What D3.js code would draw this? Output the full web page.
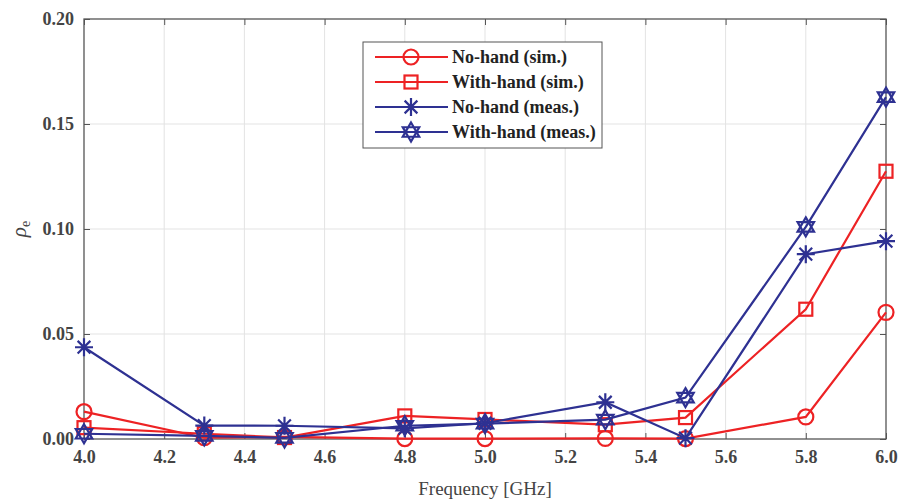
<!DOCTYPE html>
<html><head><meta charset="utf-8">
<script src="https://cdn.jsdelivr.net/npm/d3@7"></script>
<style>body{margin:0;background:#fff}svg{display:block}</style>
</head><body>
<script>
const freqs = [4.0, 4.3, 4.5, 4.8, 5.0, 5.3, 5.5, 5.8, 6.0];
const noHandSim = [0.013, 0.0006, 0.001, 0.0002, 0.0002, 0.0003, 0.0002, 0.0105, 0.0603];
const withHandSim = [0.0054, 0.0025, 0.0007, 0.011, 0.0093, 0.0068, 0.0102, 0.0618, 0.1275];
const noHandMeas = [0.0437, 0.0064, 0.0063, 0.0051, 0.0075, 0.0175, 0.0004, 0.088, 0.0942];
const withHandMeas = [0.0025, 0.0015, 0.0005, 0.0063, 0.0073, 0.0092, 0.0197, 0.101, 0.1628];
const seriesNames = ["No-hand (sim.)", "With-hand (sim.)", "No-hand (meas.)", "With-hand (meas.)"];
const xTicks = [4.0, 4.2, 4.4, 4.6, 4.8, 5.0, 5.2, 5.4, 5.6, 5.8, 6.0];
const yTicks = [0, 0.05, 0.10, 0.15, 0.20];

const W = 899, H = 499;
const m = {l: 84, r: 13, t: 19, b: 60};
const red = "#ED2224", blue = "#2E3192";
const svg = d3.select("body").append("svg").attr("width", W).attr("height", H);
const x = d3.scaleLinear().domain([4, 6]).range([m.l, W - m.r]);
const y = d3.scaleLinear().domain([0, 0.2]).range([H - m.b, m.t]);
const pw = W - m.r - m.l, ph = H - m.b - m.t;

// grid
svg.append("g").selectAll("line.gx").data(xTicks.slice(1, -1)).join("line")
  .attr("x1", d => x(d)).attr("x2", d => x(d)).attr("y1", m.t).attr("y2", H - m.b)
  .attr("stroke", "#e3e3e3").attr("stroke-width", 1);
svg.append("g").selectAll("line.gy").data(yTicks.slice(1, -1)).join("line")
  .attr("y1", d => y(d)).attr("y2", d => y(d)).attr("x1", m.l).attr("x2", W - m.r)
  .attr("stroke", "#e3e3e3").attr("stroke-width", 1);

const fontT = "'Liberation Serif','Times New Roman',serif";
const axisStyle = g => {
  g.attr("font-family", fontT);
  g.select(".domain").remove();
  g.selectAll(".tick line").attr("stroke", "#555");
  g.selectAll(".tick text").style("font-family", fontT).attr("font-size", 18)
    .attr("font-weight", "bold").attr("fill", "#444");
};
svg.append("g").attr("transform", `translate(0,${H - m.b})`)
  .call(d3.axisBottom(x).tickValues(xTicks).tickFormat(d3.format(".1f")).tickSizeInner(-6).tickSizeOuter(0).tickPadding(11))
  .call(axisStyle);
svg.append("g").attr("transform", `translate(0,${m.t})`)
  .call(d3.axisTop(x).tickValues(xTicks).tickFormat("").tickSizeInner(-6).tickSizeOuter(0))
  .call(axisStyle);
svg.append("g").attr("transform", `translate(${m.l},0)`)
  .call(d3.axisLeft(y).tickValues(yTicks).tickFormat(d3.format(".2f")).tickSizeInner(-6).tickSizeOuter(0).tickPadding(10))
  .call(axisStyle);
svg.append("g").attr("transform", `translate(${W - m.r},0)`)
  .call(d3.axisRight(y).tickValues(yTicks).tickFormat("").tickSizeInner(-6).tickSizeOuter(0))
  .call(axisStyle);
svg.append("rect").attr("x", m.l).attr("y", m.t).attr("width", pw).attr("height", ph)
  .attr("fill", "none").attr("stroke", "#555").attr("stroke-width", 1.3);

// labels
svg.append("text").attr("x", x(5)).attr("y", 495).attr("text-anchor", "middle")
  .style("font-family", fontT).attr("font-size", 19).attr("fill", "#444").text("Frequency [GHz]");
const yl = svg.append("text").attr("transform", `translate(26,${y(0.1)}) rotate(-90)`)
  .attr("text-anchor", "middle").style("font-family", fontT).attr("font-size", 21).attr("fill", "#444");
yl.append("tspan").attr("font-style", "italic").text("ρ");
yl.append("tspan").attr("font-size", 14).attr("dy", 4).text("e");

// markers
const hexPath = r => {
  const t1 = d3.range(3).map(i => { const a = -Math.PI/2 + i*2*Math.PI/3; return [r*Math.cos(a), r*Math.sin(a)]; });
  const t2 = d3.range(3).map(i => { const a = Math.PI/2 + i*2*Math.PI/3; return [r*Math.cos(a), r*Math.sin(a)]; });
  return "M" + t1.join("L") + "Z M" + t2.join("L") + "Z";
};
const starPath = r => {
  let p = "";
  [0, 45, 90, 135].forEach(dg => { const a = dg*Math.PI/180; p += `M${-r*Math.cos(a)},${-r*Math.sin(a)}L${r*Math.cos(a)},${r*Math.sin(a)}`; });
  return p;
};
const markers = {
  circle: g => g.append("circle").attr("r", 7.5),
  square: g => g.append("rect").attr("x", -6.5).attr("y", -6.5).attr("width", 13).attr("height", 13),
  star: g => g.append("path").attr("d", starPath(9)),
  hex: g => g.append("path").attr("d", hexPath(9.5))
};
const series = [
  {name: seriesNames[0], vals: noHandSim, color: red, mk: "circle"},
  {name: seriesNames[1], vals: withHandSim, color: red, mk: "square"},
  {name: seriesNames[2], vals: noHandMeas, color: blue, mk: "star"},
  {name: seriesNames[3], vals: withHandMeas, color: blue, mk: "hex"}
];
const line = d3.line().x(d => x(d[0])).y(d => y(d[1]));
series.forEach(s => {
  const pts = freqs.map((f, i) => [f, s.vals[i]]);
  svg.append("path").datum(pts).attr("d", line).attr("fill", "none")
    .attr("stroke", s.color).attr("stroke-width", 2.2);
  pts.forEach(p => {
    const g = svg.append("g").attr("transform", `translate(${x(p[0])},${y(p[1])})`)
      .attr("fill", "none").attr("stroke", s.color).attr("stroke-width", 2.2);
    markers[s.mk](g);
  });
});

// legend
const lg = svg.append("g");
lg.append("rect").attr("x", 363).attr("y", 42).attr("width", 239).attr("height", 106)
  .attr("fill", "#fff").attr("stroke", "#555").attr("stroke-width", 1);
series.forEach((s, i) => {
  const yy = 57 + i * 25;
  lg.append("line").attr("x1", 375).attr("x2", 448).attr("y1", yy).attr("y2", yy)
    .attr("stroke", s.color).attr("stroke-width", 2.2);
  const g = lg.append("g").attr("transform", `translate(411,${yy})`)
    .attr("fill", "none").attr("stroke", s.color).attr("stroke-width", 2.2);
  markers[s.mk](g);
  lg.append("text").attr("x", 452).attr("y", yy + 6).style("font-family", fontT)
    .attr("font-size", 18).attr("font-weight", "bold").attr("fill", "#222").text(s.name);
});
</script>
</body></html>
